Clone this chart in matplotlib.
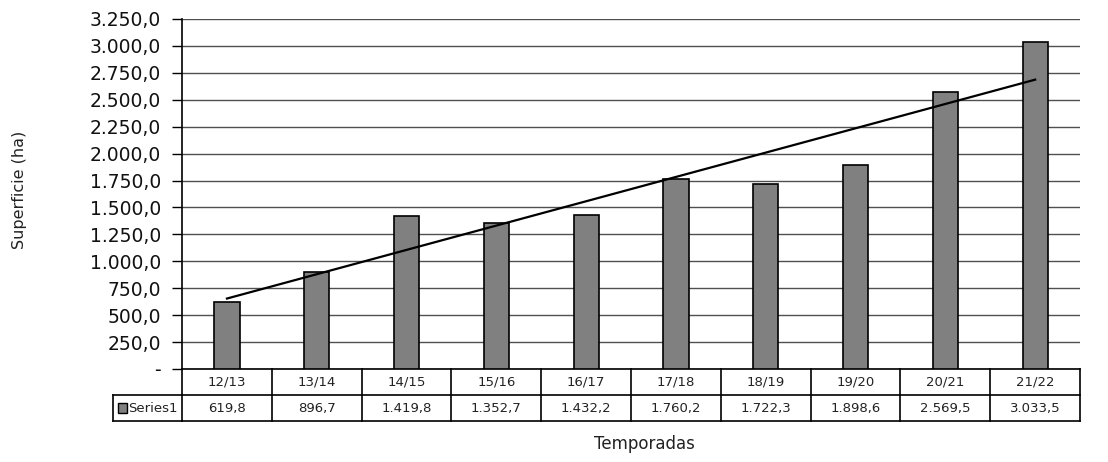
import matplotlib.pyplot as plt
import numpy as np
from matplotlib.ticker import FuncFormatter
from matplotlib.patches import Rectangle

temporadas = ["12/13", "13/14", "14/15", "15/16", "16/17", "17/18", "18/19", "19/20", "20/21", "21/22"]
superficie = [619.8, 896.7, 1419.8, 1352.7, 1432.2, 1760.2, 1722.3, 1898.6, 2569.5, 3033.5]
serie = "Series1"


def es_num(v, pos=None):
    if v == 0:
        return "-"
    s = f"{v:,.1f}"
    return s.replace(",", "X").replace(".", ",").replace("X", ".")


fig = plt.figure(figsize=(11.08, 4.62), dpi=100)
ax = fig.add_axes([0.1643, 0.2013, 0.8105, 0.7576])

x = np.arange(len(temporadas))
y = np.array(superficie)
ax.bar(x, y, width=0.28, color="#808080", edgecolor="black", linewidth=1.2, zorder=3)

# linear trendline
m, b = np.polyfit(x, y, 1)
ax.plot(x, m * x + b, color="black", linewidth=1.6, zorder=4)

ax.set_xlim(-0.5, len(temporadas) - 0.5)
ax.set_ylim(0, 3250)
ax.set_yticks(np.arange(0, 3251, 250))
ax.yaxis.set_major_formatter(FuncFormatter(es_num))
ax.tick_params(axis="y", labelsize=13.5, length=7, width=1, direction="out", pad=8, labelcolor="#111111")
ax.set_xticks([])
ax.grid(axis="y", color="#505050", linewidth=1, zorder=0)
for s in ["top", "right", "bottom"]:
    ax.spines[s].set_visible(False)
ax.spines["left"].set_linewidth(1.2)

# data table below the plot
tr = ax.get_xaxis_transform()
row_h = 26 / 350
n = len(temporadas)
lw = 1.2
for yy in [0, -row_h, -2 * row_h]:
    ax.plot([-0.5, n - 0.5], [yy, yy], transform=tr, color="black", lw=lw, clip_on=False)
for i in range(n + 1):
    ax.plot([i - 0.5, i - 0.5], [0, -2 * row_h], transform=tr, color="black", lw=lw, clip_on=False)
# series label cell
left_cell = -0.5 - 69 / (898 / n)
ax.plot([left_cell, -0.5], [-row_h, -row_h], transform=tr, color="black", lw=lw, clip_on=False)
ax.plot([left_cell, -0.5], [-2 * row_h, -2 * row_h], transform=tr, color="black", lw=lw, clip_on=False)
ax.plot([left_cell, left_cell], [-row_h, -2 * row_h], transform=tr, color="black", lw=lw, clip_on=False)
for i, (t, v) in enumerate(zip(temporadas, superficie)):
    ax.text(i, -0.5 * row_h, t, transform=tr, ha="center", va="center", fontsize=9.5, color="#222222")
    ax.text(i, -1.5 * row_h, es_num(v), transform=tr, ha="center", va="center", fontsize=9.5, color="#222222")
key_w = 0.09
ax.add_patch(Rectangle((left_cell + 0.06, -1.5 * row_h - 0.013), key_w, 0.026, transform=tr,
                       facecolor="#808080", edgecolor="black", lw=1, clip_on=False))
ax.text(left_cell + 0.06 + key_w + 0.02, -1.5 * row_h, serie, transform=tr, ha="left", va="center",
        fontsize=9.5, color="#222222")

fig.text(0.018, 0.59, "Superficie (ha)", rotation=90, ha="center", va="center", fontsize=11.5, color="#222222")
fig.text(0.582, 0.04, "Temporadas", ha="center", va="center", fontsize=12, color="#222222")

fig.savefig("out.png", dpi=100)
